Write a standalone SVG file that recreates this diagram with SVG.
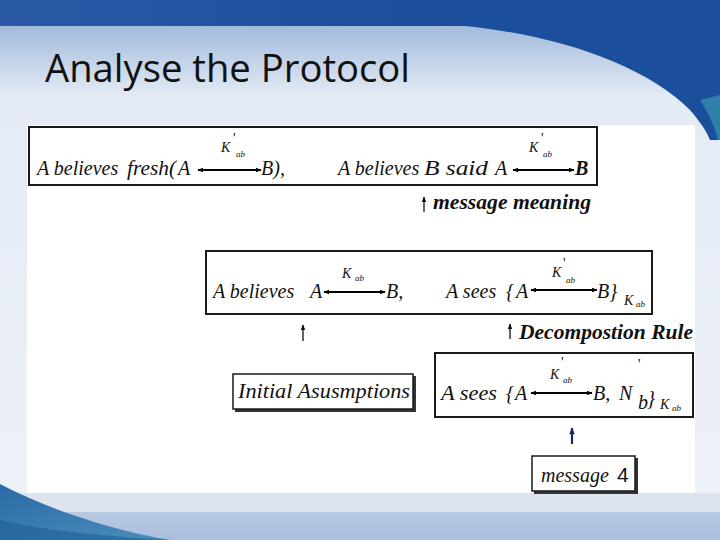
<svg xmlns="http://www.w3.org/2000/svg" width="720" height="540" viewBox="0 0 720 540">
<defs>
<linearGradient id="bg" x1="0" y1="0" x2="0" y2="1">
<stop offset="0" stop-color="#8faad3"/>
<stop offset="0.06" stop-color="#a9bfde"/>
<stop offset="0.18" stop-color="#e4ebf5"/>
<stop offset="1" stop-color="#eef2f8"/>
</linearGradient>
<linearGradient id="top" x1="0" y1="0" x2="1" y2="0">
<stop offset="0" stop-color="#2a5aa6"/>
<stop offset="0.5" stop-color="#1d4f9e"/>
<stop offset="1" stop-color="#174a94"/>
</linearGradient>
<linearGradient id="foot" x1="0" y1="0" x2="0" y2="1">
<stop offset="0" stop-color="#b7c8e2"/>
<stop offset="1" stop-color="#aabfde"/>
</linearGradient>
<linearGradient id="teal" x1="0" y1="0" x2="1" y2="1">
<stop offset="0" stop-color="#2b6aa8"/>
<stop offset="1" stop-color="#4a8fb8"/>
</linearGradient>
<marker id="ah" viewBox="0 0 10 10" refX="9" refY="5" markerWidth="6" markerHeight="6" markerUnits="userSpaceOnUse" orient="auto-start-reverse">
<path d="M0,1 L10,5 L0,9 z" fill="#000"/>
</marker>
<marker id="up" viewBox="0 0 10 10" refX="9" refY="5" markerWidth="6" markerHeight="6" markerUnits="userSpaceOnUse" orient="auto">
<path d="M0,1 L10,5 L0,9 z" fill="#111"/>
</marker>
<marker id="upn" viewBox="0 0 10 10" refX="9" refY="5" markerWidth="8" markerHeight="7" markerUnits="userSpaceOnUse" orient="auto">
<path d="M0,1 L10,5 L0,9 z" fill="#1a2a5c"/>
</marker>
<style>
.t{font-family:"Liberation Serif","Times New Roman",serif;font-style:italic;font-size:20px;fill:#111}
.b{font-weight:bold}
.k{font-family:"Liberation Serif","Times New Roman",serif;font-style:italic;font-size:14px;fill:#111}
.s{font-family:"Liberation Serif","Times New Roman",serif;font-style:italic;font-size:9px;fill:#111}
.p{font-family:"Liberation Serif","Times New Roman",serif;font-size:14px;fill:#111}
.box{fill:#fff;stroke:#1a1a1a;stroke-width:2}
.ar{stroke:#000;stroke-width:2;marker-start:url(#ah);marker-end:url(#ah)}
.upl{stroke:#111;stroke-width:1.3;marker-end:url(#up)}
</style>
</defs>
<!-- slide background -->
<rect x="0" y="0" width="720" height="540" fill="url(#bg)"/>
<rect x="0" y="0" width="720" height="26" fill="url(#top)"/>
<path d="M440,24 C540,30 640,60 690,110 C700,122 706,130 710,140 L720,140 L720,0 L430,0 Z" fill="#1c4f9b"/>
<path d="M700,100 C708,112 714,125 718,140 L720,140 L720,95 Z" fill="#2f7fa8"/>
<rect x="0" y="493" width="720" height="20" fill="#dce4f0"/>
<rect x="0" y="512" width="720" height="28" fill="url(#foot)"/>
<path d="M0,484 C40,505 100,528 170,540 L0,540 Z" fill="url(#teal)"/>
<path d="M0,520 C40,530 100,536 170,540 L0,540 Z" fill="#1f5d96" opacity="0.6"/>
<text x="45" y="82" font-family="'Open Sans','Liberation Sans',sans-serif" font-size="38" fill="#111" textLength="365" lengthAdjust="spacingAndGlyphs">Analyse the Protocol</text>
<!-- image area -->
<rect x="27" y="125" width="668" height="368" fill="#fff"/>

<g id="node-belief-fresh-said">
<rect class="box" x="29" y="127" width="568" height="58"/>
<text class="t" x="37" y="175">A believes</text>
<text class="t" x="127" y="175" textLength="49" lengthAdjust="spacingAndGlyphs">fresh(</text>
<text class="t" x="178" y="175">A</text>
<line class="ar" x1="198" y1="170" x2="261" y2="170"/>
<text class="t" x="261" y="175">B),</text>
<text class="k" x="221" y="152">K</text><text class="p" x="233" y="143">'</text><text class="s" x="236" y="157">ab</text>
<text class="t" x="338" y="175">A believes</text>
<text class="t" x="424" y="175" textLength="64" lengthAdjust="spacingAndGlyphs">B said</text>
<text class="t" x="495" y="175">A</text>
<line class="ar" x1="513" y1="170" x2="574" y2="170"/>
<text class="t b" x="575" y="175">B</text>
<text class="k" x="529" y="152">K</text><text class="p" x="541" y="143">'</text><text class="s" x="543" y="157">ab</text>
</g>

<g id="node-believes-sees">
<rect class="box" x="206" y="251" width="446" height="63"/>
<text class="t" x="213" y="298">A believes</text>
<text class="t" x="310" y="298">A</text>
<line class="ar" x1="324" y1="292" x2="385" y2="292"/>
<text class="t" x="386" y="298">B,</text>
<text class="k" x="342" y="278">K</text><text class="s" x="355" y="281">ab</text>
<text class="t" x="446" y="298">A sees</text>
<text class="t" x="506" y="298">{</text>
<text class="t" x="516" y="298">A</text>
<line class="ar" x1="531" y1="290" x2="597" y2="290"/>
<text class="t" x="597" y="298">B}</text>
<text class="k" x="552" y="277">K</text><text class="p" x="563" y="268">'</text><text class="s" x="566" y="283">ab</text>
<text class="k" x="624" y="305" font-size="12">K</text><text class="s" x="636" y="307" font-size="8">ab</text>
</g>

<g id="node-initial">
<rect x="235" y="376" width="181" height="36" fill="#333"/>
<rect x="233" y="374" width="180" height="35" fill="#fff" stroke="#1a1a1a" stroke-width="1.5"/>
<text class="t" x="238" y="398" font-size="19" textLength="172" lengthAdjust="spacingAndGlyphs">Initial  Asusmptions</text>
</g>

<g id="node-sees-nonce">
<rect class="box" x="435" y="353" width="258" height="64"/>
<text class="t" x="441" y="400" textLength="56" lengthAdjust="spacingAndGlyphs">A sees</text>
<text class="t" x="506" y="400" font-size="19">{</text>
<text class="t" x="515" y="400">A</text>
<line class="ar" x1="531" y1="393" x2="592" y2="393"/>
<text class="t" x="593" y="400">B,</text>
<text class="t" x="619" y="400">N</text>
<text class="p" x="638" y="369" font-size="14">'</text>
<text class="t" x="638" y="409" font-size="13">b</text>
<text class="t" x="647" y="405" font-size="17">}</text>
<text class="k" x="660" y="409" font-size="12">K</text><text class="s" x="672" y="411" font-size="8">ab</text>
<text class="k" x="550" y="379">K</text><text class="p" x="561" y="367">'</text><text class="s" x="563" y="383">ab</text>
</g>

<g id="node-message4">
<rect x="534" y="458" width="104" height="36" fill="#333"/>
<rect x="532" y="456" width="103" height="35" fill="#fff" stroke="#1a1a1a" stroke-width="1.5"/>
<text class="t" x="541" y="482" font-size="20">message</text>
<text x="617" y="482" font-family="'Liberation Sans',sans-serif" font-size="21" fill="#111">4</text>
</g>

<g id="connectors">
<line class="upl" x1="424" y1="212" x2="424" y2="197"/>
<text class="t b" x="433" y="209" font-size="18" textLength="158" lengthAdjust="spacingAndGlyphs">message meaning</text>
<line class="upl" x1="303" y1="341" x2="303" y2="325"/>
<line class="upl" x1="510" y1="339" x2="510" y2="324"/>
<text class="t b" x="519" y="339" font-size="18" textLength="174" lengthAdjust="spacingAndGlyphs">Decompostion Rule</text>
<line x1="572" y1="444" x2="572" y2="428" stroke="#1a2a5c" stroke-width="2.2" marker-end="url(#upn)"/>
</g>
</svg>
